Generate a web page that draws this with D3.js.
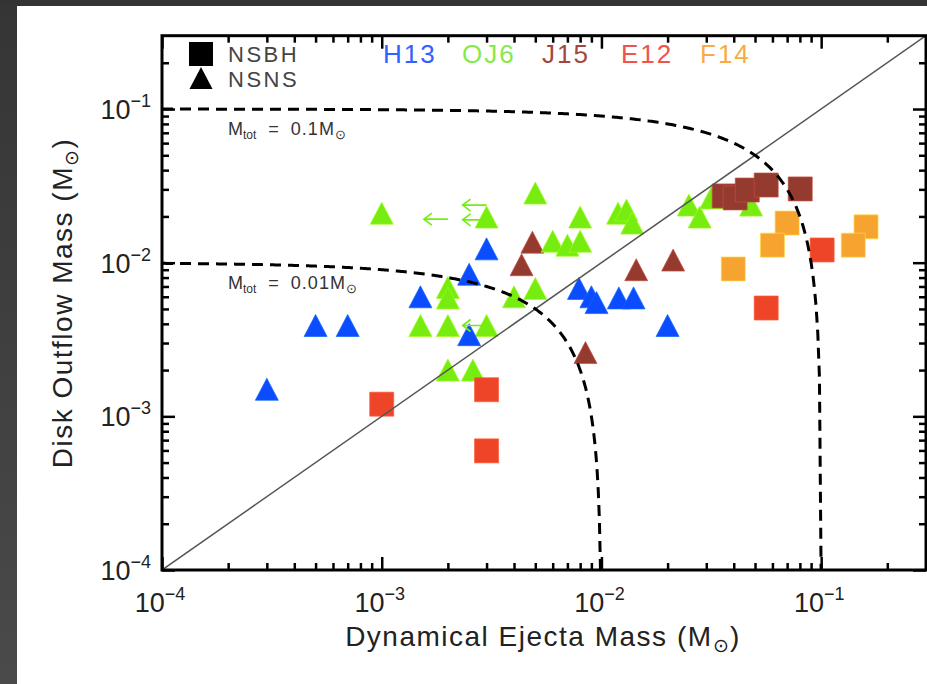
<!DOCTYPE html>
<html>
<head>
<meta charset="utf-8">
<script src="https://cdn.jsdelivr.net/npm/d3@7"></script>
<style>
  html, body { margin: 0; padding: 0; background: #fff; }
  svg { display: block; }
  text { font-family: "Liberation Sans", Arial, sans-serif; }
</style>
</head>
<body>
<svg id="chart" width="927" height="684"></svg>
<script>
// ---------------- DATA ----------------
const categories = ["H13", "OJ6", "J15", "E12", "F14"];
const typeLabels = ["NSBH", "NSNS"];
const majorTicks = [1e-4, 1e-3, 1e-2, 1e-1];
const tickExponents = ["\u22124", "\u22123", "\u22122", "\u22121"];
const mtotValues = [0.1, 0.01];
const mtotLabels = ["0.1", "0.01"];

// H13 (NSNS, triangles)
const h13X = [3e-4, 5e-4, 7e-4, 1.5e-3, 2.5e-3, 3e-3, 2.5e-3, 7.9e-3, 9e-3, 9.5e-3, 1.2e-2, 1.4e-2, 2e-2];
const h13Y = [1.5e-3, 3.9e-3, 3.9e-3, 6e-3, 8.4e-3, 1.23e-2, 3.4e-3, 6.8e-3, 6e-3, 5.5e-3, 5.9e-3, 5.9e-3, 3.9e-3];
// OJ6 (NSNS, triangles)
const oj6X = [1e-3, 3e-3, 5e-3, 8e-3, 1.19e-2, 1.3e-2, 1.38e-2, 6e-3, 7e-3, 8e-3, 2e-3, 2e-3, 4e-3, 5e-3, 1.5e-3, 2e-3, 3e-3, 2e-3, 2.6e-3, 2.5e-2, 2.8e-2, 3.16e-2, 4.8e-2];
const oj6Y = [2.1e-2, 1.98e-2, 2.84e-2, 1.98e-2, 2.1e-2, 2.2e-2, 1.81e-2, 1.38e-2, 1.3e-2, 1.38e-2, 6.9e-3, 5.9e-3, 6e-3, 6.8e-3, 3.9e-3, 3.9e-3, 3.9e-3, 2e-3, 2e-3, 2.37e-2, 1.98e-2, 2.64e-2, 2.37e-2];
// OJ6 upper limits on dynamical ejecta (arrows)
const oj6LimX = [2e-3, 3e-3, 3e-3, 3e-3];
const oj6LimY = [1.92e-2, 2.37e-2, 1.9e-2, 3.9e-3];
// J15 (NSNS triangles, NSBH squares)
const j15TriX = [4.85e-3, 4.33e-3, 1.44e-2, 2.12e-2, 8.46e-3];
const j15TriY = [1.36e-2, 9.7e-3, 9e-3, 1.04e-2, 2.6e-3];
const j15SqX = [3.62e-2, 4.06e-2, 4.61e-2, 5.62e-2, 8.03e-2];
const j15SqY = [2.72e-2, 2.64e-2, 2.97e-2, 3.2e-2, 3.02e-2];
// E12 (NSBH squares)
const e12X = [0.101, 5.62e-2, 1e-3, 3e-3, 3e-3];
const e12Y = [1.21e-2, 5.07e-3, 1.2e-3, 1.49e-3, 5.96e-4];
// F14 (NSBH squares)
const f14X = [7e-2, 6e-2, 3.98e-2, 0.16, 0.14];
const f14Y = [1.81e-2, 1.3e-2, 9.1e-3, 1.71e-2, 1.3e-2];

// ---------------- STYLE ----------------
const colors = { H13: "#0b4cff", OJ6: "#76ec10", J15: "#953a2f", E12: "#ee4529", F14: "#f6a42f" };
const labelColors = { H13: "#2f62ff", OJ6: "#86ea4a", J15: "#a5463d", E12: "#f0534c", F14: "#f8ab44" };

const L = 162, R = 926, T = 35.7, B = 570;

const svg = d3.select("#chart");

// dark border of the screenshot
const defs = svg.append("defs");
const grad = defs.append("linearGradient").attr("id", "lg").attr("x1", 0).attr("y1", 0).attr("x2", 0).attr("y2", 1);
grad.append("stop").attr("offset", "0%").attr("stop-color", "#353535");
grad.append("stop").attr("offset", "100%").attr("stop-color", "#4a4a4a");
svg.append("rect").attr("x", 0).attr("y", 0).attr("width", 927).attr("height", 684).attr("fill", "#fff");
svg.append("rect").attr("x", 0).attr("y", 0).attr("width", 17).attr("height", 684).attr("fill", "url(#lg)");
svg.append("rect").attr("x", 0).attr("y", 0).attr("width", 927).attr("height", 6).attr("fill", "#343434");

const x = d3.scaleLog().domain([1e-4, 0.3]).range([L, R]);
const y = d3.scaleLog().domain([1e-4, 0.3]).range([B, T]);

defs.append("clipPath").attr("id", "clip").append("rect")
  .attr("x", L).attr("y", T).attr("width", R - L).attr("height", B - T);

// minor tick values
const minorVals = [];
for (let e = -4; e <= -1; e++) for (let k = 2; k <= 9; k++) {
  const v = k * Math.pow(10, e);
  if (v <= 0.3) minorVals.push(v);
}

function styleAxis(g) {
  g.select(".domain").remove();
  g.selectAll(".tick line").attr("stroke", "#000").attr("stroke-width", 2.5);
  g.selectAll(".tick text").remove();
}
const majLen = 13, minLen = 7;
// bottom
svg.append("g").attr("transform", `translate(0,${B})`).call(d3.axisBottom(x).tickValues(majorTicks).tickSize(-majLen).tickSizeOuter(0)).call(styleAxis);
svg.append("g").attr("transform", `translate(0,${B})`).call(d3.axisBottom(x).tickValues(minorVals).tickSize(-minLen).tickSizeOuter(0)).call(styleAxis);
// top
svg.append("g").attr("transform", `translate(0,${T})`).call(d3.axisTop(x).tickValues(majorTicks).tickSize(-majLen).tickSizeOuter(0)).call(styleAxis);
svg.append("g").attr("transform", `translate(0,${T})`).call(d3.axisTop(x).tickValues(minorVals).tickSize(-minLen).tickSizeOuter(0)).call(styleAxis);
// left
svg.append("g").attr("transform", `translate(${L},0)`).call(d3.axisLeft(y).tickValues(majorTicks).tickSize(-majLen).tickSizeOuter(0)).call(styleAxis);
svg.append("g").attr("transform", `translate(${L},0)`).call(d3.axisLeft(y).tickValues(minorVals).tickSize(-minLen).tickSizeOuter(0)).call(styleAxis);
// right
svg.append("g").attr("transform", `translate(${R},0)`).call(d3.axisRight(y).tickValues(majorTicks).tickSize(-majLen).tickSizeOuter(0)).call(styleAxis);
svg.append("g").attr("transform", `translate(${R},0)`).call(d3.axisRight(y).tickValues(minorVals).tickSize(-minLen).tickSizeOuter(0)).call(styleAxis);

// tick labels
const tickColor = "#222";
majorTicks.forEach((v, i) => {
  const t = svg.append("text").attr("x", x(v) - 2).attr("y", 612).attr("text-anchor", "middle")
    .attr("fill", tickColor).attr("font-size", 27);
  t.append("tspan").text("10");
  t.append("tspan").attr("dy", -12).attr("font-size", 18).text(tickExponents[i]);
});
majorTicks.forEach((v, i) => {
  const t = svg.append("text").attr("x", 151).attr("y", y(v) + 10).attr("text-anchor", "end")
    .attr("fill", tickColor).attr("font-size", 27);
  t.append("tspan").text("10");
  t.append("tspan").attr("dy", -12).attr("font-size", 18).text(tickExponents[i]);
});

// axis titles
function massTitle(sel, label) {
  sel.append("tspan").text(label + " (M");
  sel.append("tspan").attr("dy", 6).attr("font-size", 19).text("\u2299");
  sel.append("tspan").attr("dy", -6).text(")");
}
svg.append("text").attr("x", 543).attr("y", 646).attr("text-anchor", "middle")
  .attr("fill", tickColor).attr("font-size", 28).attr("letter-spacing", 1.5)
  .call(massTitle, "Dynamical Ejecta Mass");
svg.append("text").attr("transform", `translate(72,303) rotate(-90)`).attr("text-anchor", "middle")
  .attr("fill", tickColor).attr("font-size", 28).attr("letter-spacing", 1.5)
  .call(massTitle, "Disk Outflow Mass");

// markers
const triW = 23, triH = 22, sq = 24;
const triPath = `M0,${-triH / 2}L${triW / 2},${triH / 2}L${-triW / 2},${triH / 2}Z`;
const sqPath = `M${-sq / 2},${-sq / 2}h${sq}v${sq}h${-sq}Z`;

const plotG = svg.append("g").attr("clip-path", "url(#clip)");
function drawSeries(xs, ys, cat, path) {
  const c = colors[cat];
  plotG.append("g").selectAll("path").data(xs.map((v, i) => [v, ys[i]])).join("path")
    .attr("d", path)
    .attr("transform", d => `translate(${x(d[0])},${y(d[1])})`)
    .attr("fill", c)
    .attr("stroke", d3.color(c).brighter(0.8).formatHex())
    .attr("stroke-width", 1)
    .attr("stroke-opacity", 0.7);
}
drawSeries(j15TriX, j15TriY, "J15", triPath);
drawSeries(oj6X, oj6Y, "OJ6", triPath);
drawSeries(h13X, h13Y, "H13", triPath);
drawSeries(e12X, e12Y, "E12", sqPath);
drawSeries(f14X, f14Y, "F14", sqPath);
drawSeries(j15SqX, j15SqY, "J15", sqPath);

// upper-limit arrows
const arrowLen = 24;
plotG.append("g").selectAll("path").data(oj6LimX.map((v, i) => [v, oj6LimY[i]])).join("path")
  .attr("d", d => {
    const x0 = x(d[0]), y0 = y(d[1]), x1 = x0 - arrowLen;
    return `M${x0},${y0}L${x1},${y0}M${x1 + 8},${y0 - 6}L${x1},${y0}L${x1 + 8},${y0 + 6}`;
  })
  .attr("fill", "none").attr("stroke", colors.OJ6).attr("stroke-width", 1.6);

// diagonal 1:1 line
plotG.append("path")
  .attr("d", d3.line()([[x(1e-4), y(1e-4)], [x(0.3), y(0.3)]]))
  .attr("stroke", "#555").attr("stroke-width", 1.5).attr("fill", "none");

// constant total mass curves
mtotValues.forEach(M => {
  const pts = d3.range(0, 401).map(i => {
    const lx = Math.log10(1e-4) + (Math.log10(M - 1.0e-4) - Math.log10(1e-4)) * i / 400;
    const xv = Math.pow(10, lx);
    return [x(xv), y(Math.max(M - xv, 1e-5))];
  });
  plotG.append("path").attr("d", d3.line()(pts))
    .attr("fill", "none").attr("stroke", "#000").attr("stroke-width", 3)
    .attr("stroke-dasharray", "11,7");
});

// Mtot annotations
mtotValues.forEach((M, i) => {
  const t = svg.append("text").attr("x", 228).attr("y", y(M) + 26)
    .attr("fill", "#333").attr("font-size", 18);
  t.append("tspan").text("M");
  t.append("tspan").attr("dy", 4).attr("font-size", 12).text("tot");
  t.append("tspan").attr("dy", -4).attr("dx", 12).text("=");
  t.append("tspan").attr("dx", 12).attr("letter-spacing", 1).text(mtotLabels[i] + "M");
  t.append("tspan").attr("dy", 4).attr("font-size", 13).text("\u2299");
});

// frame
svg.append("rect").attr("x", L).attr("y", T).attr("width", R - L).attr("height", B - T)
  .attr("fill", "none").attr("stroke", "#000").attr("stroke-width", 3);

// legend: type symbols
svg.append("path").attr("d", sqPath).attr("transform", "translate(201,54)").attr("fill", "#000");
svg.append("path").attr("d", triPath).attr("transform", "translate(201,78)").attr("fill", "#000");
svg.append("text").attr("x", 228).attr("y", 62).attr("font-size", 22).attr("letter-spacing", 2.5).attr("fill", "#444").text(typeLabels[0]);
svg.append("text").attr("x", 228).attr("y", 87).attr("font-size", 22).attr("letter-spacing", 2.5).attr("fill", "#444").text(typeLabels[1]);

// legend: category labels
const catX = [383, 462, 542, 621, 700];
categories.forEach((c, i) => {
  svg.append("text").attr("x", catX[i]).attr("y", 63).attr("font-size", 26)
    .attr("letter-spacing", 2).attr("fill", labelColors[c]).text(c);
});
</script>
</body>
</html>
